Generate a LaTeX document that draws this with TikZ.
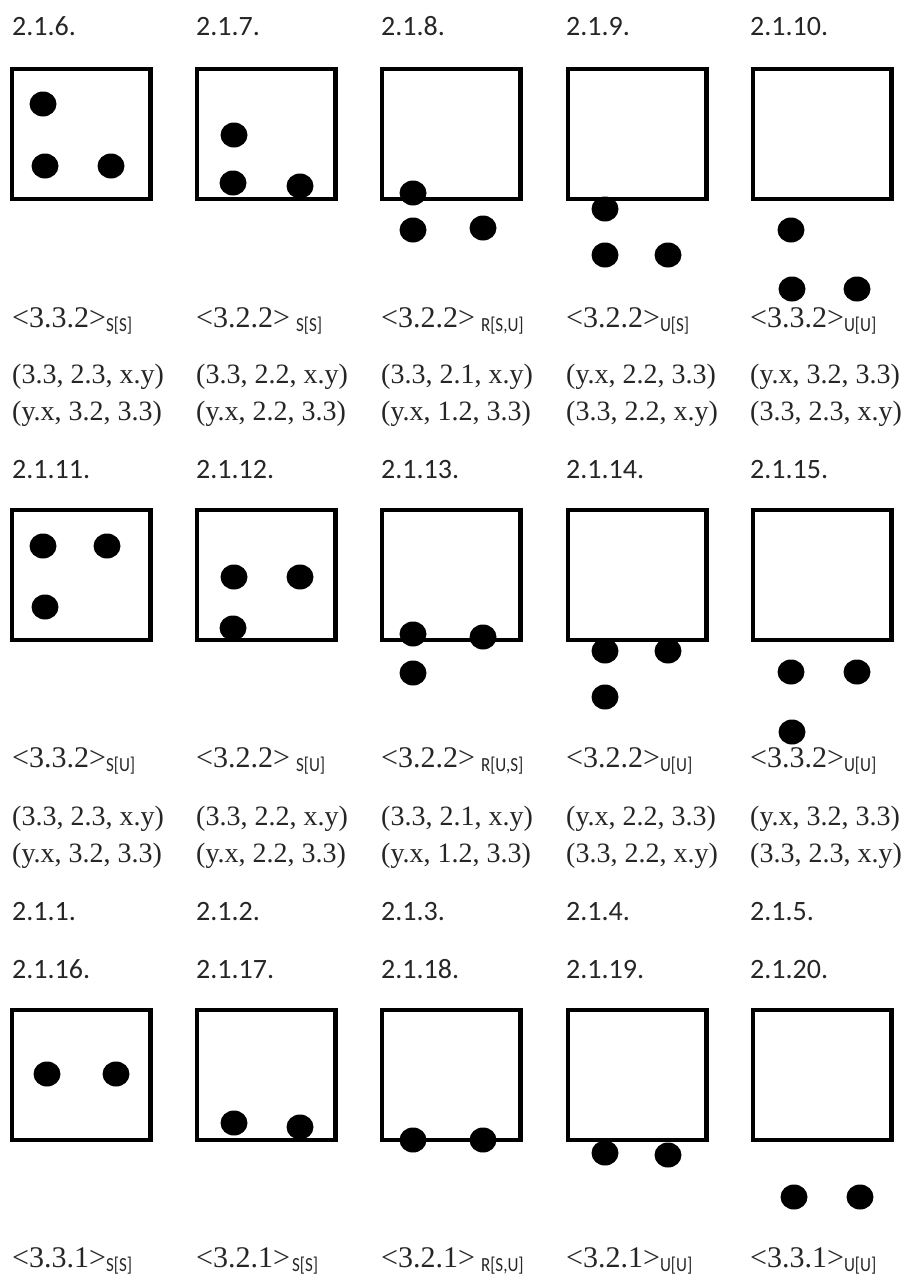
\documentclass[tikz,border=0pt]{standalone}
\usepackage{fontspec}
\setmainfont{Liberation Serif}
\newfontfamily\labelfont{Carlito}
\usetikzlibrary{positioning}
\newcommand\subtag[1]{\raisebox{-4pt}{\scalebox{0.85}[1]{\labelfont\fontsize{20}{21}\selectfont #1}}}

\begin{document}
\begin{tikzpicture}[x=1pt,y=-1pt,
  cellbox/.style={line width=4.4pt},
  numlabel/.style={anchor=base west,inner sep=0pt,text=black!85,
    font=\labelfont\fontsize{28}{30}\selectfont},
  typelabel/.style={anchor=base west,inner sep=0pt,text=black!85,
    font=\fontsize{30}{32}\selectfont},
  coordline/.style={anchor=base west,inner sep=0pt,text=black!85,
    font=\fontsize{28}{30}\selectfont}]
  \useasboundingbox (0,0) rectangle (902,1277);

  % Boxes
  \foreach \top in {67,508,1008}
    \foreach \x in {10,195,380,566,751}
      \draw[cellbox] (\x+2.2,\top+2.2) rectangle (\x+140.3,\top+131.8);

  % Dots, row 1
  \foreach \x/\y in {
    43/104,45/166,111/166,
    234/135,233/183,300/186,
    413/193,413/230,483/228,
    605/209,605/255,668/255,
    791/230,792/289,857/289}
    {\fill (\x,\y) ellipse [x radius=13.5pt,y radius=12.5pt];}

  % Dots, row 2
  \foreach \x/\y in {
    43/546,107/546,45/607,
    234/577,300/577,233/628,
    413/634,413/673,483/637,
    605/651,668/651,605/697,
    791/672,857/672,792/732}
    {\fill (\x,\y) ellipse [x radius=13.5pt,y radius=12.5pt];}

  % Dots, row 3
  \foreach \x/\y in {
    47/1074,116/1074,
    234/1123,300/1127,
    413/1140,483/1140,
    605/1153,668/1155,
    794/1197,860/1197}
    {\fill (\x,\y) ellipse [x radius=13.5pt,y radius=12.5pt];}

  % Numbers
  \foreach \x/\n in {12/6,196/7,381/8,566/9,750/10}
    \node[numlabel] (num\n) at (\x,35) {2.1.\n.};
  \foreach \x/\n in {12/11,196/12,381/13,566/14,750/15}
    \node[numlabel] (num\n) at (\x,478) {2.1.\n.};
  \foreach \x/\n in {12/1,196/2,381/3,566/4,750/5}
    \node[numlabel] (num\n) at (\x,920) {2.1.\n.};
  \foreach \x/\n in {12/16,196/17,381/18,566/19,750/20}
    \node[numlabel] (num\n) at (\x,978) {2.1.\n.};

  % Type labels
  \foreach \x/\t/\g/\s [count=\c] in {12/3.3.2/0/{S[S]},196/3.2.2/6/{S[S]},
      381/3.2.2/6/{R[S,U]},566/3.2.2/0/{U[S]},750/3.3.2/0/{U[U]}}
    \node[typelabel] (typeA\c) at (\x,327) {<\t>\hspace{\g pt}\subtag{\s}};
  \foreach \x/\t/\g/\s [count=\c] in {12/3.3.2/0/{S[U]},196/3.2.2/6/{S[U]},
      381/3.2.2/6/{R[U,S]},566/3.2.2/0/{U[U]},750/3.3.2/0/{U[U]}}
    \node[typelabel] (typeB\c) at (\x,767) {<\t>\hspace{\g pt}\subtag{\s}};
  \foreach \x/\t/\g/\s [count=\c] in {12/3.3.1/0/{S[S]},196/3.2.1/2/{S[S]},
      381/3.2.1/6/{R[S,U]},566/3.2.1/0/{U[U]},750/3.3.1/0/{U[U]}}
    \node[typelabel] (typeC\c) at (\x,1267) {<\t>\hspace{\g pt}\subtag{\s}};

  % Coordinate pairs
  \foreach \ya/\yb/\r in {383/420/A,825/862/B}
    \foreach \x/\a/\b [count=\c] in {
      12/{(3.3, 2.3, x.y)}/{(y.x, 3.2, 3.3)},
      196/{(3.3, 2.2, x.y)}/{(y.x, 2.2, 3.3)},
      381/{(3.3, 2.1, x.y)}/{(y.x, 1.2, 3.3)},
      566/{(y.x, 2.2, 3.3)}/{(3.3, 2.2, x.y)},
      750/{(y.x, 3.2, 3.3)}/{(3.3, 2.3, x.y)}}
      {\node[coordline] (first\r\c) at (\x,\ya) {\a};
       \node[coordline] (second\r\c) at (\x,\yb) {\b};}
\end{tikzpicture}
\end{document}
